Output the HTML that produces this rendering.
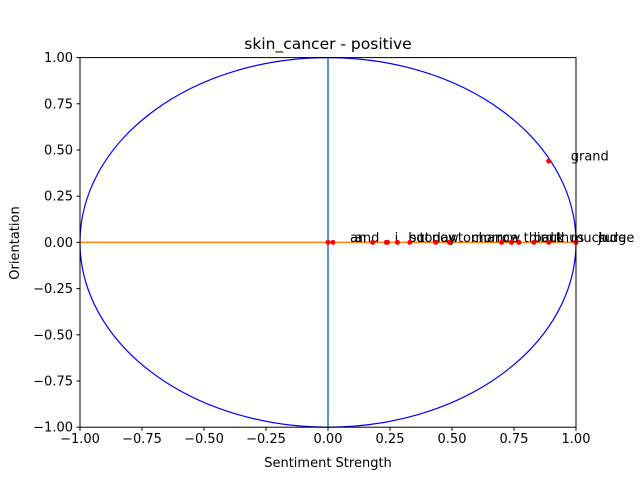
<!DOCTYPE html>
<html><head><meta charset="utf-8"><style>body{margin:0;background:#fff}svg{display:block;font-family:"DejaVu Sans","Liberation Sans",sans-serif}</style></head>
<body>
<svg id="c" width="640" height="480">
<rect width="640" height="480" fill="#fff"/>
</svg>
<script>
const words = ["an","and","i","but","so","today","now","tomorrow","chance","third","back","out","thus","much","sure","judge","grand"];
const xs = [0.0,0.02,0.18,0.235,0.24,0.28,0.33,0.435,0.49,0.70,0.74,0.77,0.83,0.89,1.0,1.0,0.89];
const ys = [0,0,0,0,0,0,0,0,0,0,0,0,0,0,0,0,0.44];
const xticks = [-1,-0.75,-0.5,-0.25,0,0.25,0.5,0.75,1];
const yticks = [-1,-0.75,-0.5,-0.25,0,0.25,0.5,0.75,1];
const L=80,R=576,T=57.6,B=427.2;
const sx=v=>L+(v+1)/2*(R-L), sy=v=>B-(v+1)/2*(B-T);
const svg=document.getElementById('c'),NS='http://www.w3.org/2000/svg';
const fmt=v=>(v<0?'\u2212':'')+Math.abs(v).toFixed(2);
function mk(t,a,p){const e=document.createElementNS(NS,t);for(const k in a)e.setAttribute(k,a[k]);(p||svg).appendChild(e);return e;}
let e;
e=mk('ellipse',{cx:sx(0),cy:sy(0),rx:(R-L)/2,ry:(B-T)/2,fill:'none',stroke:'#0000ff','stroke-width':1.2});


e=mk('line',{x1:sx(0),x2:sx(0),y1:T,y2:B,stroke:'#1f77b4','stroke-width':1.5});


e=mk('line',{x1:L,x2:R,y1:sy(0),y2:sy(0),stroke:'#ff7f0e','stroke-width':1.5});


for(let i=0;i<words.length;i++){
  e=mk('circle',{cx:sx(xs[i]),cy:sy(ys[i]),r:2.5,fill:'#ff0000'});
  
  
  e=mk('text',{x:sx(xs[i])+22,y:sy(ys[i])-0.5,'font-size':13,fill:'#000'});
  e.textContent=words[i];
  
  
}
e=mk('rect',{x:L,y:T,width:R-L,height:B-T,fill:'none',stroke:'#000','stroke-width':1});


for(const v of xticks){
  mk('line',{x1:sx(v),x2:sx(v),y1:B,y2:B+3.5,stroke:'#000'});
  e=mk('text',{x:sx(v),y:B+16,'font-size':13,'text-anchor':'middle'});
  e.textContent=fmt(v);
  
  
}
for(const v of yticks){
  mk('line',{x1:L-3.5,x2:L,y1:sy(v),y2:sy(v),stroke:'#000'});
  e=mk('text',{x:L-7,y:sy(v)+4.5,'font-size':13,'text-anchor':'end'});
  e.textContent=fmt(v);
  
  
}
e=mk('text',{x:328,y:467,'font-size':13,'text-anchor':'middle'});
e.textContent='Sentiment Strength';


e=mk('text',{x:19,y:243,'font-size':13,'text-anchor':'middle',transform:'rotate(-90 19 243)'});
e.textContent='Orientation';


e=mk('text',{x:328,y:49,'font-size':15.5,'text-anchor':'middle'});
e.textContent='skin_cancer - positive';


</script>
</body></html>
